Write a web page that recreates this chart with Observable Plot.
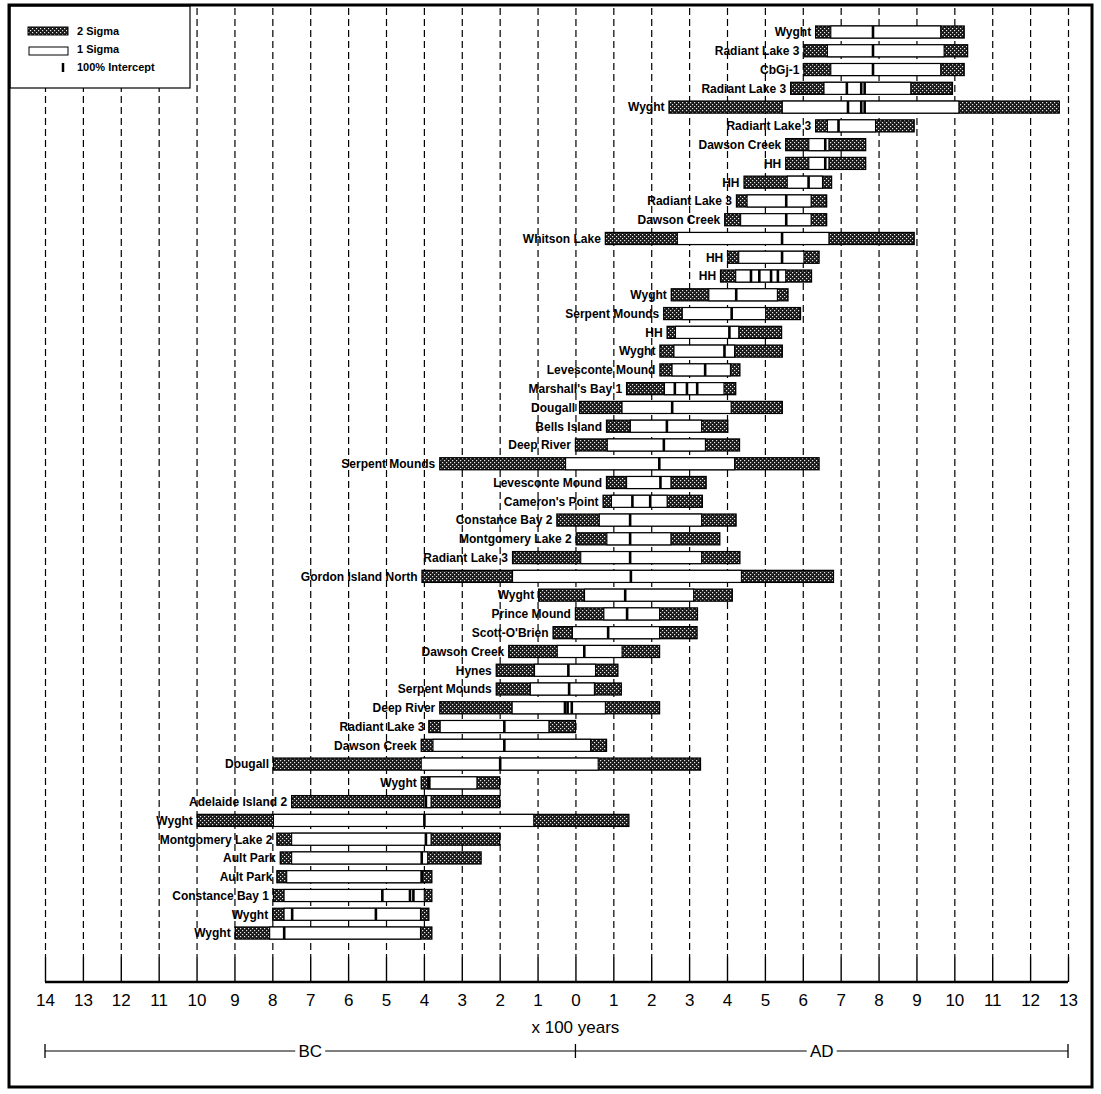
<!DOCTYPE html>
<html>
<head>
<meta charset="utf-8">
<script src="https://cdn.jsdelivr.net/npm/d3@7"></script>
<script src="https://cdn.jsdelivr.net/npm/@observablehq/plot@0.6"></script>
<style>
  html, body { margin: 0; padding: 0; background: #fff; }
  #chart { width: 1101px; height: 1094px; }
</style>
</head>
<body>
<div id="chart"></div>
<script>
// ---- Data (years; negative = BC) ----
const sites = [
  "Wyght", "Radiant Lake 3", "CbGj-1", "Radiant Lake 3", "Wyght", "Radiant Lake 3",
  "Dawson Creek", "HH", "HH", "Radiant Lake 3", "Dawson Creek", "Whitson Lake",
  "HH", "HH", "Wyght", "Serpent Mounds", "HH", "Wyght", "Levesconte Mound",
  "Marshall's Bay 1", "Dougall", "Bells Island", "Deep River", "Serpent Mounds",
  "Levesconte Mound", "Cameron's Point", "Constance Bay 2", "Montgomery Lake 2",
  "Radiant Lake 3", "Gordon Island North", "Wyght", "Prince Mound", "Scott-O'Brien",
  "Dawson Creek", "Hynes", "Serpent Mounds", "Deep River", "Radiant Lake 3",
  "Dawson Creek", "Dougall", "Wyght", "Adelaide Island 2", "Wyght",
  "Montgomery Lake 2", "Ault Park", "Ault Park", "Constance Bay 1", "Wyght", "Wyght"
];
const sigma2Start = [
  634, 603, 603, 568, 247, 634, 555, 555, 445, 425, 394, 79, 402, 383, 253, 233, 242,
  223, 223, 135, 11, 82, 0, -358, 82, 73, -49, 2, -166, -405, -97, 0, -59, -176,
  -209, -209, -358, -387, -407, -797, -407, -749, -998, -788, -779, -788, -797, -799, -898
];
const sigma2End = [
  1026, 1035, 1026, 995, 1277, 894, 766, 766, 676, 663, 663, 894, 643, 623, 561, 594, 544,
  546, 434, 423, 546, 402, 433, 643, 345, 335, 424, 381, 434, 681, 414, 322, 321, 222,
  112, 121, 222, 0, 82, 330, -200, -200, 141, -200, -249, -379, -379, -387, -379
];
const sigma1Start = [
  674, 665, 674, 656, 546, 665, 616, 616, 559, 453, 436, 269, 431, 423, 352, 282, 264,
  260, 255, 235, 123, 145, 84, -26, 135, 95, 63, 83, 14, -166, 24, 75, -8, -48,
  -108, -119, -167, -357, -376, -407, -390, -400, -797, -749, -749, -762, -769, -769, -807
];
const sigma1End = [
  964, 973, 964, 885, 1012, 792, 669, 669, 652, 622, 622, 669, 603, 555, 533, 502, 431,
  420, 409, 392, 411, 333, 343, 420, 252, 242, 333, 252, 333, 438, 312, 222, 222, 123,
  53, 50, 79, -70, 40, 60, -260, -381, -110, -381, -390, -407, -399, -409, -409
];
const interceptYears = [
  [784], [784], [784], [715, 753, 762], [718, 753, 762], [693], [658], [658], [614],
  [555], [555], [544], [544], [462, 484, 515, 533], [423], [411], [405], [392], [341],
  [261, 293, 320], [254], [240], [232], [220], [223], [149, 196], [143], [143], [143],
  [145], [130], [135], [85], [22], [-20], [-18], [-29, -22, -11], [-189], [-189],
  [-200], [-387], [-396], [-400], [-396], [-407], [-407], [-511, -438, -429],
  [-749, -528], [-770]
];
const tickYears = d3.range(-1400, 1301, 100);
const eraLabels = ["BC", "AD"];
const legendLabels = ["2 Sigma", "1 Sigma", "100% Intercept"];
const axisTitle = "x 100 years";

// ---- Tables built from the arrays ----
const rows = sites.map((site, i) => ({
  i, site, s2lo: sigma2Start[i], s2hi: sigma2End[i], s1lo: sigma1Start[i], s1hi: sigma1End[i]
}));
const intercepts = rows.flatMap(r => interceptYears[r.i].map(v => ({ i: r.i, v })));

// ---- Layout ----
const W = 1101, H = 1094;
const mt = 8, mb = 137, ml = 45, mr = 33;
const tickLen = 25;
const FONT = "'Liberation Sans', Arial, Helvetica, sans-serif";

const chart = Plot.plot({
  width: W, height: H,
  marginTop: mt, marginBottom: mb, marginLeft: ml, marginRight: mr,
  style: { fontFamily: FONT, background: "transparent", color: "#000", overflow: "visible" },
  x: { domain: [tickYears[0], tickYears[tickYears.length - 1]], label: null },
  y: { type: "band", domain: d3.range(sites.length), range: [19.24, 945.8], padding: 0.36, axis: null },
  marks: [
    Plot.ruleX(tickYears, { stroke: "#000", strokeWidth: 1.2, strokeDasharray: "7,4" }),
    Plot.axisX(tickYears, {
      anchor: "bottom", tickSize: tickLen, tickPadding: 11, fontSize: 17,
      strokeWidth: 1.4, label: null,
      tickFormat: d => String(Math.abs(d / 100))
    }),
    Plot.barX(rows, { x1: "s2lo", x2: "s2hi", y: "i", fill: "url(#sig2)", stroke: "#000", strokeWidth: 1.3 }),
    Plot.barX(rows, { x1: "s1lo", x2: "s1hi", y: "i", fill: "#fff", stroke: "#000", strokeWidth: 1.1 }),
    Plot.tickX(intercepts, { x: "v", y: "i", stroke: "#000", strokeWidth: 2.6 }),
    Plot.text(rows, {
      x: "s2lo", y: "i", text: "site", textAnchor: "end", dx: -5,
      fontSize: 12, fontWeight: "bold", fill: "#000"
    })
  ]
});

const svg = d3.select(chart);
// pattern for 2 sigma
const defs = svg.insert("defs", ":first-child");
const pat = defs.append("pattern").attr("id", "sig2").attr("patternUnits", "userSpaceOnUse")
  .attr("width", 4).attr("height", 4);
pat.append("rect").attr("width", 4).attr("height", 4).attr("fill", "#1a1a1a");
pat.append("rect").attr("x", 0).attr("y", 0).attr("width", 1.2).attr("height", 1.2).attr("fill", "#e8e8e8");
pat.append("rect").attr("x", 2).attr("y", 2).attr("width", 1.2).attr("height", 1.2).attr("fill", "#e8e8e8");

const x = chart.scale("x");
const x0 = x.apply(tickYears[0]), x1 = x.apply(tickYears[tickYears.length - 1]), xz = x.apply(0);
const axisY = H - mb + tickLen;
const extra = svg.append("g").attr("text-anchor", "middle");

// axis baseline
extra.append("line").attr("x1", x0).attr("x2", x1).attr("y1", axisY).attr("y2", axisY)
  .attr("stroke", "#000").attr("stroke-width", 2.4);
// axis title
extra.append("text").attr("x", xz).attr("y", axisY + 51).attr("text-anchor", "middle")
  .attr("font-family", FONT).attr("font-size", 17).text(axisTitle);

// BC / AD bracket
const eraY = axisY + 69;
extra.append("line").attr("x1", x0).attr("x2", x1).attr("y1", eraY).attr("y2", eraY)
  .attr("stroke", "#000").attr("stroke-width", 1.2);
[x0, xz, x1].forEach(px => extra.append("line").attr("x1", px).attr("x2", px)
  .attr("y1", eraY - 7).attr("y2", eraY + 7).attr("stroke", "#000").attr("stroke-width", 1.3));
const eraMid = [x.apply(tickYears[0] / 2), x.apply(tickYears[tickYears.length - 1] / 2)];
eraLabels.forEach((lab, k) => {
  extra.append("rect").attr("x", eraMid[k] - 15).attr("y", eraY - 10).attr("width", 30).attr("height", 20).attr("fill", "#fff");
  extra.append("text").attr("x", eraMid[k]).attr("y", eraY + 6).attr("text-anchor", "middle")
    .attr("font-family", FONT).attr("font-size", 17).text(lab);
});

// legend
const lg = svg.append("g");
lg.append("rect").attr("x", 10).attr("y", 6).attr("width", 180).attr("height", 82)
  .attr("fill", "#fff").attr("stroke", "#000").attr("stroke-width", 1.2);
lg.append("rect").attr("x", 28).attr("y", 27).attr("width", 40).attr("height", 8)
  .attr("fill", "url(#sig2)").attr("stroke", "#000").attr("stroke-width", 1);
lg.append("rect").attr("x", 29).attr("y", 47).attr("width", 39).attr("height", 8)
  .attr("fill", "#fff").attr("stroke", "#000").attr("stroke-width", 1);
lg.append("line").attr("x1", 63).attr("x2", 63).attr("y1", 63).attr("y2", 72)
  .attr("stroke", "#000").attr("stroke-width", 2.5);
legendLabels.forEach((lab, k) => {
  lg.append("text").attr("x", 77).attr("y", 35 + k * 18).attr("text-anchor", "start")
    .attr("font-family", FONT).attr("font-size", 11).attr("font-weight", "bold").text(lab);
});

// outer border
svg.append("rect").attr("x", 9).attr("y", 5).attr("width", 1083).attr("height", 1082)
  .attr("fill", "none").attr("stroke", "#000").attr("stroke-width", 3);

document.getElementById("chart").appendChild(chart);
</script>
</body>
</html>
